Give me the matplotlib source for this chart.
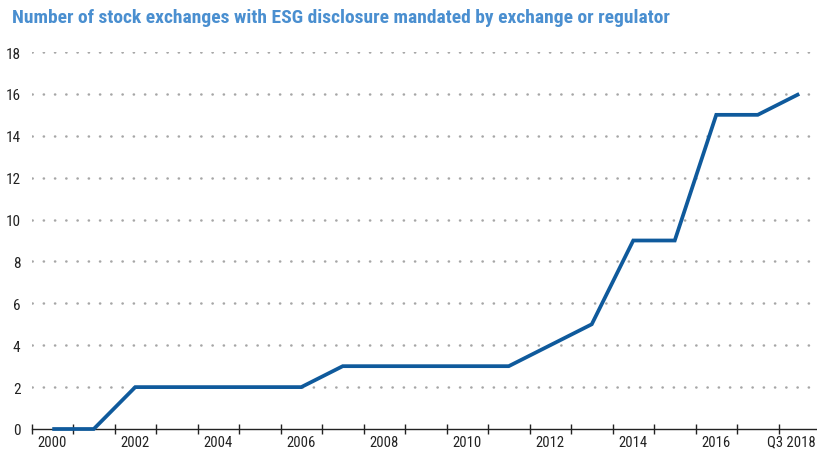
import matplotlib
matplotlib.use("Agg")
import matplotlib.pyplot as plt
from matplotlib.ticker import FixedLocator
from matplotlib import font_manager

categories = ["2000", "2001", "2002", "2003", "2004", "2005", "2006", "2007", "2008",
              "2009", "2010", "2011", "2012", "2013", "2014", "2015", "2016", "2017", "Q3 2018"]
values = [0, 0, 2, 2, 2, 2, 2, 3, 3, 3, 3, 3, 4, 5, 9, 9, 15, 15, 16]
y_ticks = [0, 2, 4, 6, 8, 10, 12, 14, 16, 18]
title = "Number of stock exchanges with ESG disclosure mandated by exchange or regulator"

# look for a narrow/condensed font
narrow = None
for f in font_manager.fontManager.ttflist:
    if "Narrow" in f.name or ("Condensed" in f.name) or f.stretch in ("condensed", "semi-condensed", 500, 600):
        if f.name.startswith(("Liberation", "Roboto", "Open Sans", "DejaVu", "Noto Sans")):
            narrow = f.name
            if "Narrow" in f.name:
                break
fam = ([narrow] if narrow else []) + ["Liberation Sans", "DejaVu Sans"]
plt.rcParams["font.family"] = fam

W, H = 817, 456
fig = plt.figure(figsize=(W / 100, H / 100), dpi=100)
left, right, bottom, top = 31.5, 820, 430, 53
ax = fig.add_axes([left / W, (H - bottom) / H, (right - left) / W, (bottom - top) / H])

x = list(range(len(categories)))
ax.plot(x, values, color="#0f5a9c", lw=2.7, solid_capstyle="butt", solid_joinstyle="miter",
        zorder=3, clip_on=False)

ax.set_xlim(-0.5, len(categories) - 0.5)
ax.set_ylim(0, 18)
ax.set_yticks(y_ticks)
ax.set_yticklabels([str(v) for v in y_ticks], fontsize=11, color="#222222")
ax.tick_params(axis="y", length=0, pad=8)

ax.xaxis.set_major_locator(FixedLocator(x[::2]))
ax.set_xticklabels(categories[::2], fontsize=10.5, color="#222222")
ax.tick_params(axis="x", which="major", length=0, pad=4)
ax.xaxis.set_minor_locator(FixedLocator([i - 0.5 for i in range(len(categories) + 1)]))
ax.tick_params(axis="x", which="minor", length=7, direction="inout", width=1, color="#222222")

fig.canvas.draw()
lab = ax.get_xticklabels()[-1]
bb = lab.get_window_extent()
if bb.x1 > W - 1:
    shift = (W - 1 - bb.x1) / 100
    lab.set_transform(lab.get_transform() + matplotlib.transforms.ScaledTranslation(
        shift, 0, fig.dpi_scale_trans))

for s in ["top", "right", "left"]:
    ax.spines[s].set_visible(False)
ax.spines["bottom"].set_color("#222222")
ax.spines["bottom"].set_linewidth(1)

for yv in y_ticks[1:]:
    ax.axhline(yv, color="#a6a6a6", lw=1.8, linestyle=(0, (0.1, 4.4)),
               dash_capstyle="round", zorder=1, xmin=0, xmax=1)

fs = 14 if narrow else 12
t = fig.text(12 / W, 1 - 18 / H, title, fontsize=fs, color="#4a8fd0", fontweight="bold",
             ha="left", va="center")

fig.savefig("out.png", dpi=100)
